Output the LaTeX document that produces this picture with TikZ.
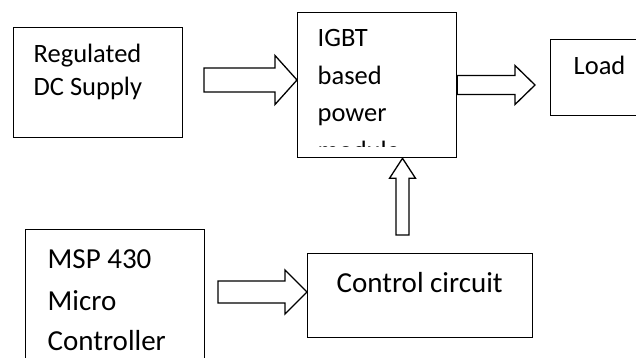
\documentclass[tikz,border=0pt]{standalone}
\usepackage{fontspec}
\setmainfont{Carlito}
\usetikzlibrary{calc}
% horizontal block arrow: #1 start, #2 tip, #3 half shaft, #4 half head, #5 head length
\newcommand\hblockarrow[5]{%
  \draw[blk] let \p1=(#1), \p2=(#2) in
    (\x1,\y2+#3) -- (\x2-#5,\y2+#3) -- (\x2-#5,\y2+#4) -- (\x2,\y2)
    -- (\x2-#5,\y2-#4) -- (\x2-#5,\y2-#3) -- (\x1,\y2-#3) -- cycle;}
% vertical (upward) block arrow
\newcommand\vblockarrow[5]{%
  \draw[blk] let \p1=(#1), \p2=(#2) in
    (\x2+#3,\y1) -- (\x2+#3,\y2-#5) -- (\x2+#4,\y2-#5) -- (\x2,\y2)
    -- (\x2-#4,\y2-#5) -- (\x2-#3,\y2-#5) -- (\x2-#3,\y1) -- cycle;}
\begin{document}
\begin{tikzpicture}[x=1pt,y=-1pt,line width=1.3pt,
  box/.style={draw,rectangle,inner sep=0pt,anchor=north west},
  lbl/.style={anchor=base west,inner sep=0pt,font=\fontsize{26.5}{32}\selectfont},
  lblb/.style={anchor=base west,inner sep=0pt,font=\fontsize{29}{35}\selectfont},
  blk/.style={draw,fill=white,line join=miter}]
\clip (0,0) rectangle (636,358);
\fill[white] (0,0) rectangle (636,358);

% boxes
\node[box,minimum width=169pt,minimum height=110pt] (reg) at (13,27) {};
\node[box,minimum width=159pt,minimum height=145pt] (igbt) at (297,12) {};
\node[box,minimum width=110pt,minimum height=76pt] (load) at (550,39) {};
\node[box,minimum width=179pt,minimum height=140pt] (msp) at (25,229) {};
\node[box,minimum width=225pt,minimum height=84pt] (ctrl) at (307,253) {};

% texts
\node[lbl] (regT1) at (33,63) {Regulated};
\node[lbl] (regT2) at (33,96) {DC Supply};
\begin{scope}
  \clip (297,12) rectangle (456,147);
  \node[lbl] (igbtT1) at (317,47) {IGBT};
  \node[lbl] (igbtT2) at (317,85) {based};
  \node[lbl] (igbtT3) at (317,122) {power};
  \node[lbl] (igbtT4) at (317,160) {module};
\end{scope}
\node[lbl] (loadT) at (573,75) {Load};
\node[lblb] (mspT1) at (47,268) {MSP 430};
\node[lblb] (mspT2) at (47,310) {Micro};
\node[lblb] (mspT3) at (47,350) {Controller};
\node[lblb] (ctrlT) at (336,292) {Control circuit};

% connector end points
\coordinate (a1s) at (204,80);
\coordinate (a2t) at (535,85);
\coordinate (a3s) at (218,292);
\coordinate (a4s) at (402.5,235);

% block arrows
\hblockarrow{a1s}{igbt.west |- a1s}{12pt}{24.5pt}{22pt}
\hblockarrow{igbt.east}{a2t}{9.5pt}{19.5pt}{20pt}
\hblockarrow{a3s}{ctrl.west |- a3s}{11pt}{22pt}{22pt}
\vblockarrow{a4s}{a4s |- igbt.south}{6.5pt}{13pt}{20pt}
\end{tikzpicture}
\end{document}
